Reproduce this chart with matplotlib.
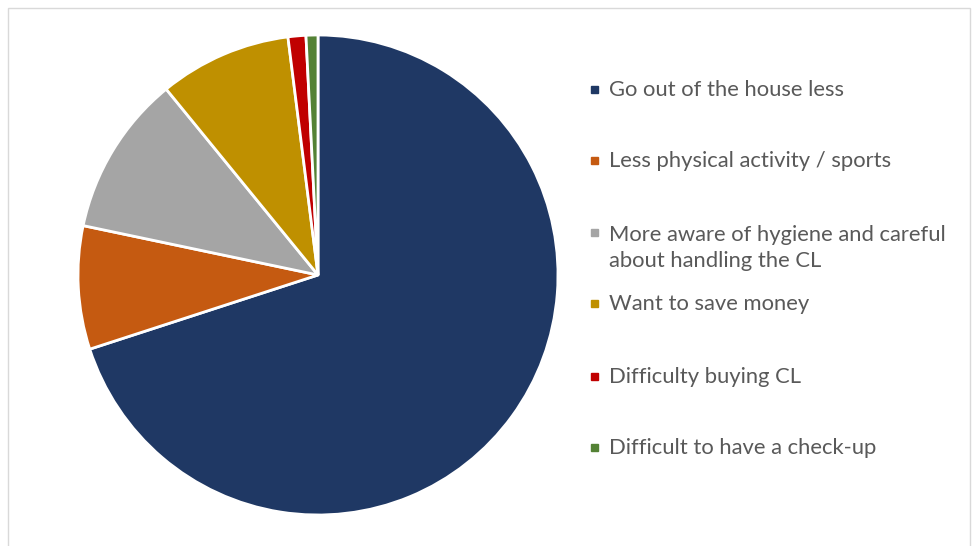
import matplotlib
matplotlib.use('Agg')
from matplotlib import pyplot as plt
from matplotlib.patches import Rectangle

plt.rcParams['font.family'] = ['Lato', 'DejaVu Sans']

labels = ['Go out of the house less',
          'Less physical activity / sports',
          'More aware of hygiene and careful\nabout handling the CL',
          'Want to save money',
          'Difficulty buying CL',
          'Difficult to have a check-up']
values = [70.0, 8.3, 10.8, 8.9, 1.2, 0.8]
colors = ['#1F3864', '#C55A11', '#A5A5A5', '#BF9000', '#C00000', '#548235']

W, H = 975, 546
fig = plt.figure(figsize=(W / 100, H / 100), dpi=100)

# pie, centre about (318, 275) px, radius 240 px
ax = fig.add_axes([78 / W, (H - 515) / H, 480 / W, 480 / H])
ax.pie(values, colors=colors, startangle=90, counterclock=False,
       wedgeprops=dict(edgecolor='white', linewidth=2))
ax.set_xlim(-1, 1)
ax.set_ylim(-1, 1)
ax.set_aspect('equal')
ax.axis('off')

# chart border
fig.add_artist(Rectangle((8 / W, -0.02), (970 - 8) / W, (H - 8) / H + 0.02,
                         transform=fig.transFigure, fill=False,
                         edgecolor='#D9D9D9', linewidth=1))

# legend drawn by hand to keep Excel-like spacing
rows_y = [89, 160, 232, 303, 376, 447]
line_h = 30
for lab, col, yy in zip(labels, colors, rows_y):
    fig.add_artist(Rectangle((591 / W, (H - yy - 3.5) / H), 7 / W, 7 / H,
                             transform=fig.transFigure, color=col))
    n = lab.count('\n')
    fig.text(609 / W, (H - yy - 1 - n * line_h / 2) / H, lab, fontsize=15.8,
             color='#595959', va='center', ha='left', linespacing=1.37)

plt.savefig('out.png', dpi=100)
